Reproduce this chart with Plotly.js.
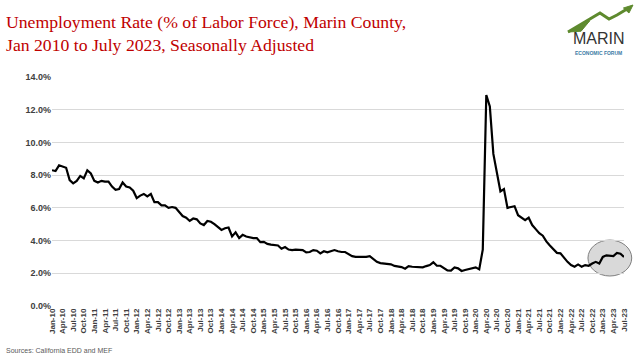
<!DOCTYPE html>
<html><head><meta charset="utf-8">
<script src="https://cdn.plot.ly/plotly-3.0.1.min.js"></script>
<style>html,body{margin:0;padding:0;background:#fff}#chart{width:640px;height:360px}</style>
</head><body><div id="chart"></div>
<script>
const monthNames = ["Jan","Feb","Mar","Apr","May","Jun","Jul","Aug","Sep","Oct","Nov","Dec"];
const years = ["10","11","12","13","14","15","16","17","18","19","20","21","22","23"];

const rate2010 = [8.3, 8.25, 8.6, 8.5, 8.45, 7.7, 7.5, 7.65, 7.95, 7.8, 8.3, 8.1];
const rate2011 = [7.65, 7.55, 7.65, 7.6, 7.6, 7.3, 7.1, 7.15, 7.55, 7.3, 7.25, 7.05];
const rate2012 = [6.6, 6.75, 6.85, 6.7, 6.85, 6.35, 6.35, 6.15, 6.15, 6.0, 6.05, 6.0];
const rate2013 = [5.75, 5.5, 5.4, 5.2, 5.35, 5.3, 5.05, 4.95, 5.2, 5.15, 5.0, 4.85];
const rate2014 = [4.65, 4.75, 4.8, 4.25, 4.5, 4.15, 4.35, 4.25, 4.2, 4.15, 4.15, 3.9];
const rate2015 = [3.92, 3.8, 3.75, 3.72, 3.7, 3.5, 3.6, 3.45, 3.42, 3.45, 3.45, 3.42];
const rate2016 = [3.28, 3.3, 3.42, 3.38, 3.22, 3.35, 3.28, 3.35, 3.42, 3.35, 3.3, 3.3];
const rate2017 = [3.15, 3.05, 3.0, 3.0, 3.0, 3.0, 3.05, 2.85, 2.7, 2.62, 2.6, 2.58];
const rate2018 = [2.55, 2.45, 2.4, 2.38, 2.28, 2.44, 2.4, 2.4, 2.38, 2.36, 2.44, 2.5];
const rate2019 = [2.67, 2.46, 2.46, 2.3, 2.18, 2.16, 2.36, 2.3, 2.14, 2.2, 2.24, 2.3];
const rate2020 = [2.36, 2.24, 3.45, 12.9, 12.2, 9.3, 8.2, 7.0, 7.15, 6.0, 6.05, 6.1];
const rate2021 = [5.55, 5.4, 5.25, 5.4, 4.95, 4.7, 4.45, 4.3, 3.95, 3.7, 3.45, 3.25];
const rate2022 = [3.22, 2.95, 2.7, 2.5, 2.4, 2.54, 2.4, 2.5, 2.46, 2.6, 2.7, 2.6];
const rate2023 = [3.0, 3.1, 3.08, 3.05, 3.25, 3.2, 3.0];

const rates = [].concat(rate2010, rate2011, rate2012, rate2013, rate2014, rate2015, rate2016,
  rate2017, rate2018, rate2019, rate2020, rate2021, rate2022, rate2023);

const categories = [];
years.forEach(y => monthNames.forEach(m => categories.push(m + "-" + y)));
categories.length = rates.length;
const tickLabels = categories.filter((c, i) => i % 3 === 0);

const titleText = "Unemployment Rate (% of Labor Force), Marin County,<br>Jan 2010 to July 2023, Seasonally Adjusted";
const sourceText = "Sources: California EDD and MEF";

const trace = {
  x: categories, y: rates, type: "scatter", mode: "lines",
  line: {color: "#000000", width: 2.2}, hoverinfo: "x+y"
};

const green = "#5e8a2e";
const layout = {
  width: 640, height: 360,
  margin: {l: 52, r: 16, t: 77, b: 54},
  paper_bgcolor: "#ffffff", plot_bgcolor: "#ffffff",
  showlegend: false,
  xaxis: {
    type: "category", tickmode: "array", tickvals: tickLabels, ticktext: tickLabels,
    tickangle: -90, showgrid: false, showline: false, zeroline: false, ticks: "",
    tickfont: {family: "Liberation Sans, Arial, sans-serif", size: 8, color: "#404040", weight: "bold"},
    fixedrange: true
  },
  yaxis: {
    range: [0, 14], dtick: 2, tickformat: ".1f", ticksuffix: "%",
    gridcolor: "#d9d9d9", gridwidth: 1, zeroline: false, showline: false, ticks: "",
    tickfont: {family: "Liberation Sans, Arial, sans-serif", size: 9, color: "#404040", weight: "bold"},
    fixedrange: true
  },
  shapes: [
    {type: "circle", xref: "paper", yref: "paper", x0: 0.937, x1: 1.0135, y0: 0.131, y1: 0.288,
     fillcolor: "#d9d9d9", line: {color: "#7f7f7f", width: 1}, layer: "between"},
    {type: "path", xref: "paper", yref: "paper",
     path: "M 0.9021 1.1965 L 0.958 1.2795 L 0.9738 1.2533 L 0.9878 1.2707 L 1.0052 1.297",
     line: {color: green, width: 3}},
    {type: "path", xref: "paper", yref: "paper",
     path: "M 0.9021 1.1965 L 0.94 1.245 L 0.925 1.2 Z",
     fillcolor: green, line: {color: green, width: 1}},
    {type: "path", xref: "paper", yref: "paper",
     path: "M 1.0157 1.3144 L 0.999 1.3013 L 1.0087 1.2795 Z",
     fillcolor: green, line: {color: green, width: 1}}
  ],
  annotations: [
    {text: titleText, xref: "paper", yref: "paper", x: -0.0845, y: 1.188, xanchor: "left", yanchor: "middle",
     align: "left", showarrow: false,
     font: {family: "Liberation Serif, serif", size: 17.7, color: "#c00000"}},
    {text: "MARIN", xref: "paper", yref: "paper", x: 0.9563, y: 1.168, xanchor: "center", yanchor: "middle",
     showarrow: false, font: {family: "Liberation Sans Narrow, Liberation Sans, Arial, sans-serif", size: 16, color: "#333333"}},
    {text: "ECONOMIC FORUM", xref: "paper", yref: "paper", x: 0.9554, y: 1.105, xanchor: "center", yanchor: "middle",
     showarrow: false, font: {family: "Liberation Sans, Arial, sans-serif", size: 5, color: "#3a7ca5", weight: "bold"}},
    {text: sourceText, xref: "paper", yref: "paper", x: -0.0845, y: -0.1965,
     xanchor: "left", yanchor: "middle", showarrow: false,
     font: {family: "Liberation Sans, Arial, sans-serif", size: 7, color: "#595959"}}
  ]
};

Plotly.newPlot("chart", [trace], layout, {displayModeBar: false, staticPlot: true});
</script>
</body></html>
